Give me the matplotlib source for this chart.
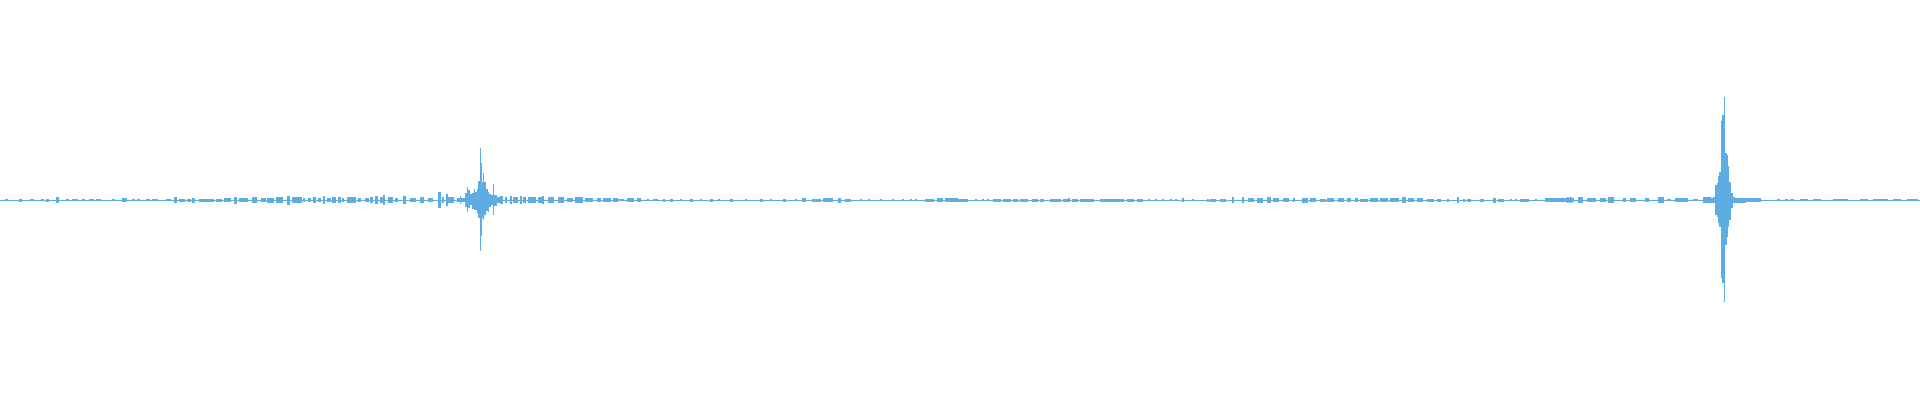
import numpy as np
import matplotlib
matplotlib.use("Agg")
import matplotlib.pyplot as plt

# waveform, x = time bin, y = amplitude in % of full scale
# quiet passages: (first bin, last bin, peak amplitude)
bursts_intro = [
    (5, 7, 0.5), (19, 21, 0.75), (30, 33, 0.6), (41, 43, 0.6), (46, 48, 0.75),
    (56, 58, 1.5), (66, 68, 0.5), (72, 77, 0.5), (82, 84, 0.5), (89, 93, 0.6),
    (96, 100, 0.6), (112, 114, 0.5), (122, 126, 1.0), (132, 134, 0.5),
    (137, 139, 0.5), (146, 149, 0.6), (152, 157, 0.6), (166, 170, 0.6),
    (174, 176, 1.5), (179, 181, 0.75), (182, 184, 0.75), (187, 190, 0.75),
    (192, 194, 1.25), (199, 213, 0.75), (216, 221, 0.75), (224, 230, 1.0),
    (234, 236, 1.75), (239, 247, 0.9), (252, 256, 1.5), (261, 265, 1.0),
    (267, 273, 1.25), (276, 282, 1.5), (287, 289, 2.25), (292, 300, 1.5),
    (300, 301, 1.6), (303, 304, 1.0), (308, 310, 1.0), (313, 315, 1.35),
    (318, 320, 1.0), (323, 324, 2.15), (327, 330, 1.0), (332, 335, 1.35),
    (338, 340, 1.35), (342, 343, 1.0), (347, 352, 1.65), (353, 355, 1.35),
    (358, 360, 1.0), (365, 368, 1.0), (370, 372, 1.35), (375, 377, 1.85),
    (380, 382, 1.65), (383, 384, 2.65), (388, 392, 1.65), (395, 397, 0.85),
    (403, 405, 2.15), (410, 415, 1.15), (420, 423, 1.65), (428, 432, 1.0),
    (438, 440, 3.85), (442, 443, 1.35), (446, 447, 3.15), (448, 453, 1.65),
    (457, 460, 1.0),
]
bursts_middle = [
    (505, 506, 1.35), (510, 511, 2.15), (513, 517, 1.35), (520, 521, 2.15),
    (523, 525, 1.35), (528, 535, 1.35), (531, 532, 1.5), (538, 543, 1.35),
    (542, 543, 2.15), (548, 553, 1.65), (558, 563, 1.35), (567, 572, 1.0),
    (575, 582, 1.35), (580, 581, 1.65), (585, 592, 1.0), (597, 600, 1.15),
    (603, 610, 0.85), (613, 617, 0.85), (618, 623, 0.65), (627, 633, 0.85),
    (637, 640, 1.0), (647, 648, 0.5), (653, 657, 0.65),
    (663, 664, 0.75), (670, 672, 0.75), (680, 681, 0.6), (690, 692, 0.75),
    (700, 701, 0.6), (710, 712, 0.75), (718, 719, 0.6), (730, 732, 0.75),
    (745, 746, 0.6), (760, 762, 0.75), (770, 771, 0.6), (783, 785, 0.75),
    (795, 796, 0.6),
    (802, 805, 1.15), (812, 820, 0.75), (823, 832, 1.0), (838, 840, 1.25),
    (845, 850, 0.75), (860, 861, 0.5), (868, 869, 0.5), (880, 881, 0.5),
    (892, 893, 0.5), (902, 903, 0.6), (910, 911, 0.6), (915, 916, 0.6),
    (925, 933, 0.75), (937, 942, 1.15), (945, 957, 1.0), (958, 967, 0.75),
    (975, 976, 0.6), (982, 983, 0.6), (987, 988, 0.6), (993, 1000, 0.75),
    (1003, 1010, 0.75), (1013, 1017, 0.75), (1020, 1027, 0.75),
    (1032, 1037, 0.75), (1040, 1043, 0.75), (1050, 1060, 0.75),
    (1063, 1067, 0.75), (1068, 1069, 1.15), (1072, 1077, 0.75),
    (1080, 1093, 0.75), (1100, 1117, 0.75), (1118, 1123, 0.75),
    (1127, 1133, 0.75), (1137, 1142, 0.75), (1148, 1149, 0.6),
    (1155, 1156, 0.6), (1162, 1163, 0.6), (1170, 1171, 0.6),
    (1175, 1176, 0.6), (1182, 1183, 1.0), (1192, 1193, 0.5),
]
bursts_late = [
    (1207, 1208, 0.75), (1210, 1215, 0.75), (1220, 1225, 0.75),
    (1232, 1233, 1.5), (1242, 1243, 1.5), (1248, 1253, 1.0),
    (1257, 1262, 1.25), (1267, 1270, 1.5), (1273, 1278, 1.0),
    (1283, 1288, 1.0), (1293, 1294, 1.0), (1302, 1307, 1.25),
    (1310, 1315, 1.0), (1320, 1325, 0.75), (1327, 1333, 1.0),
    (1338, 1343, 1.0), (1347, 1350, 1.0), (1355, 1357, 1.0),
    (1360, 1367, 0.75), (1370, 1377, 1.0), (1380, 1387, 1.0),
    (1390, 1398, 1.0), (1402, 1405, 1.5), (1408, 1413, 1.0),
    (1417, 1422, 1.0), (1427, 1433, 0.75), (1437, 1440, 0.75),
    (1447, 1448, 0.75), (1457, 1458, 1.5), (1463, 1464, 0.75),
    (1467, 1470, 0.75), (1480, 1483, 0.75), (1493, 1495, 1.25),
    (1498, 1503, 0.75), (1510, 1511, 0.6), (1515, 1516, 0.6),
    (1520, 1528, 0.75), (1535, 1536, 0.5),
    (1545, 1557, 0.85), (1558, 1570, 0.85), (1567, 1568, 1.35),
    (1570, 1571, 1.35), (1572, 1573, 0.85), (1578, 1582, 1.35),
    (1587, 1595, 0.85), (1600, 1605, 0.85), (1608, 1613, 1.35),
    (1623, 1625, 1.0), (1630, 1635, 1.0), (1645, 1648, 0.85),
    (1658, 1663, 1.35), (1667, 1670, 0.5), (1675, 1687, 0.85),
    (1693, 1697, 0.5), (1703, 1710, 1.35),
]
bursts_outro = [
    (1735, 1745, 1.25), (1745, 1760, 1.0), (1777, 1779, 0.5),
    (1785, 1787, 0.6), (1790, 1793, 0.5), (1800, 1807, 0.6),
    (1813, 1820, 0.6), (1833, 1847, 0.6), (1860, 1867, 0.5),
    (1873, 1887, 0.6), (1893, 1900, 0.6), (1907, 1917, 0.6),
]

# loud events, one value per time bin (max above / below zero)
hit1_bins = list(range(460, 503))
hit1_max = [2, 0.85, 0.85, 0.85, 1.0, 3.65, 3.65, 6.35, 5.0, 5.0, 3.0, 3.0,
            3.65, 3.65, 5.35, 4.15, 4.15, 5.35, 9.65, 9.65, 26.0, 18.65, 9.15,
            13.35, 9.0, 9.0, 5.35, 5.35, 4.15, 3.0, 3.0, 2.5, 2.5, 8.0, 2.5,
            2.5, 2.5, 1.35, 1.35, 1.35, 2.15, 2.15, 2.15]
hit1_min = [2, 0.85, 0.85, 0.85, 1.0, 3.35, 3.35, 5.85, 4.0, 4.0, 2.5, 2.5,
            4.5, 4.5, 5.0, 5.0, 5.0, 6.5, 9.15, 9.15, 25.35, 18.0, 9.0,
            10.0, 7.5, 7.5, 5.35, 5.35, 5.85, 3.5, 3.5, 2.5, 2.5, 7.5, 3.0,
            3.0, 3.0, 1.35, 1.35, 1.35, 2.15, 2.15, 2.15]

hit2_bins = list(range(1711, 1735))
hit2_max = [1.25, 1.25, 1.5, 1.5, 7.5, 7.5, 8.35, 12.0, 14.15, 14.15, 39.65,
            42.5, 42.5, 51.65, 23.65, 23.65, 22.5, 17.0, 9.15, 9.15, 3.35,
            3.35, 1.5, 1.5]
hit2_min = [1.25, 1.25, 1.5, 1.5, 7.5, 7.5, 8.35, 11.65, 13.35, 13.35, 39.15,
            41.65, 41.65, 50.85, 22.5, 22.5, 18.35, 13.35, 10.0, 10.0, 4.15,
            4.15, 1.5, 1.5]

color = '#5DADE2'

fig = plt.figure(figsize=(19.2, 4), dpi=100)
ax = fig.add_axes([0, 0, 1, 1])

ax.axhline(0, color=color, lw=0.8)

for bursts in [bursts_intro, bursts_middle, bursts_late, bursts_outro]:
    start = np.array([b[0] for b in bursts])
    end = np.array([b[1] for b in bursts])
    amp = np.array([b[2] for b in bursts])
    ax.bar(start, 2 * amp, width=end - start + 1, bottom=-amp,
           align='edge', color=color, linewidth=0)

for bins, hi, lo in [(hit1_bins, hit1_max, hit1_min),
                     (hit2_bins, hit2_max, hit2_min)]:
    hi = np.array(hi)
    lo = np.array(lo)
    ax.bar(bins, hi + lo, width=1, bottom=-lo, align='edge',
           color=color, linewidth=0)

ax.set_xlim(0, 1920)
ax.set_ylim(-100, 100)
ax.axis('off')

fig.savefig('out.png', dpi=100)
